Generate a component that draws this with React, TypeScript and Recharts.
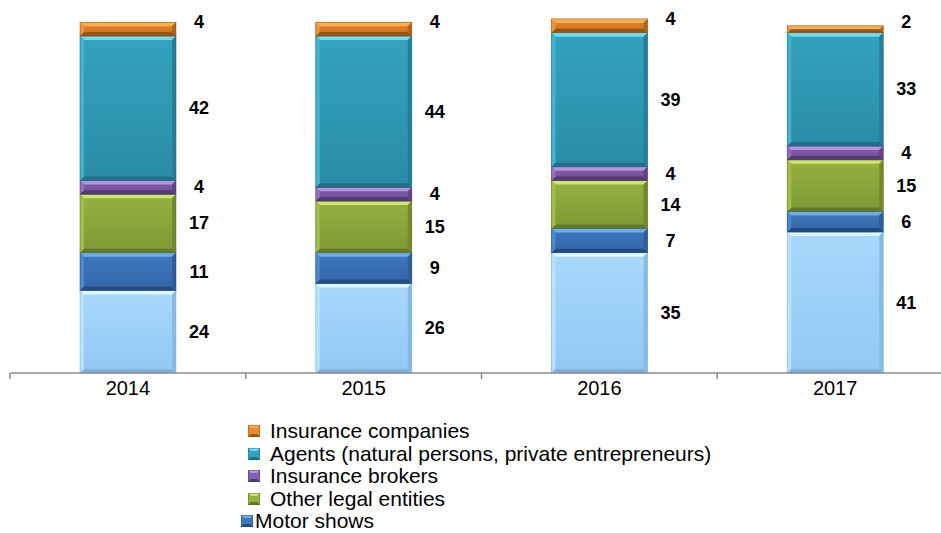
import React from 'react';
import { BarChart, Bar, XAxis, YAxis, Legend, LabelList } from 'recharts';

const years = ['2014', '2015', '2016', '2017'];
const direct = [24, 26, 35, 41];
const motorShows = [11, 9, 7, 6];
const otherLegal = [17, 15, 14, 15];
const brokers = [4, 4, 4, 4];
const agents = [42, 44, 39, 33];
const insurers = [4, 4, 4, 2];

const data = years.map((y, i) => ({
  year: y,
  direct: direct[i],
  motorShows: motorShows[i],
  otherLegal: otherLegal[i],
  brokers: brokers[i],
  agents: agents[i],
  insurers: insurers[i],
}));

type Pal = { faceTop: string; faceBot: string; top: string; bottom: string; left: string; right: string; stroke: string };

const palettes: Record<string, Pal> = {
  direct: { faceTop: '#A8D8FB', faceBot: '#92C8F3', top: '#DDF8FF', bottom: '#7FB0DA', left: '#B8E2FB', right: '#86BCE4', stroke: '#7FA9CC' },
  motorShows: { faceTop: '#4079BF', faceBot: '#3265A6', top: '#6CAEEC', bottom: '#254C82', left: '#4C88CE', right: '#2F5E9A', stroke: '#1E3F70' },
  otherLegal: { faceTop: '#96B140', faceBot: '#7E9834', top: '#CCE66E', bottom: '#62782A', left: '#A2BE4A', right: '#73892E', stroke: '#546820' },
  brokers: { faceTop: '#8660AE', faceBot: '#704C94', top: '#B793DE', bottom: '#553A78', left: '#9270BC', right: '#634486', stroke: '#48306A' },
  agents: { faceTop: '#34A3BF', faceBot: '#2A8CA7', top: '#6CDDF3', bottom: '#216F86', left: '#42B2CE', right: '#257F98', stroke: '#1C6378' },
  insurers: { faceTop: '#E88A30', faceBot: '#C86A1C', top: '#FBAE52', bottom: '#9A5414', left: '#EF9538', right: '#B5621A', stroke: '#8C4C12' },
};

const makeShape = (key: string) => (props: any) => {
  const { x, y, width, height } = props;
  if (!height || height <= 0) return <g />;
  const p = palettes[key];
  const b = Math.min(4, height / 2, width / 2);
  const x2 = x + width;
  const y2 = y + height;
  const gid = `face-${key}`;
  return (
    <g>
      <defs>
        <linearGradient id={gid} x1="0" y1="0" x2="0" y2="1">
          <stop offset="0%" stopColor={p.faceTop} />
          <stop offset="100%" stopColor={p.faceBot} />
        </linearGradient>
      </defs>
      <rect x={x} y={y} width={width} height={height} fill={`url(#${gid})`} />
      <polygon points={`${x},${y} ${x2},${y} ${x2 - b},${y + b} ${x + b},${y + b}`} fill={p.top} />
      <polygon points={`${x},${y2} ${x2},${y2} ${x2 - b},${y2 - b} ${x + b},${y2 - b}`} fill={p.bottom} />
      <polygon points={`${x},${y} ${x + b},${y + b} ${x + b},${y2 - b} ${x},${y2}`} fill={p.left} />
      <polygon points={`${x2},${y} ${x2 - b},${y + b} ${x2 - b},${y2 - b} ${x2},${y2}`} fill={p.right} />
      <rect x={x} y={y} width={width} height={height} fill="none" stroke={p.stroke} strokeWidth={0.8} strokeOpacity={0.6} />
    </g>
  );
};

const makeLabel = (dy: number) => (props: any) => {
  const { x, y, width, height, value } = props;
  return (
    <text
      x={x + width + 23}
      y={y + height / 2 + dy}
      textAnchor="middle"
      dominantBaseline="central"
      fontFamily="'Liberation Sans', Arial, sans-serif"
      fontWeight="bold"
      fontSize={18}
      fill="#000"
    >
      {value}
    </text>
  );
};

const CHART_W = 953;
const CHART_H = 533;
const MARGIN = { top: 12, right: 0, left: 10, bottom: 130 };
const HALF_BAND = (CHART_W - MARGIN.left - MARGIN.right) / years.length / 2;

const YearTick = (props: any) => {
  const { x, y, payload } = props;
  return (
    <g>
      <line x1={x - HALF_BAND} y1={y} x2={x - HALF_BAND} y2={y + 6} stroke="#8C8C8C" strokeWidth={1.5} />
      <text
        x={x}
        y={y + 15}
        textAnchor="middle"
        dominantBaseline="central"
        fontFamily="'Liberation Sans', Arial, sans-serif"
        fontSize={20}
        fill="#000"
      >
        {payload.value}
      </text>
    </g>
  );
};

const legendItems = [
  { key: 'insurers', label: 'Insurance companies', gap: 10 },
  { key: 'agents', label: 'Agents (natural persons, private entrepreneurs)', gap: 10 },
  { key: 'brokers', label: 'Insurance brokers', gap: 10 },
  { key: 'otherLegal', label: 'Other legal entities', gap: 10 },
  { key: 'motorShows', label: 'Motor shows', gap: 2 },
];

const LegendContent = () => (
  <div style={{ fontFamily: "'Liberation Sans', Arial, sans-serif", fontSize: 21, color: '#000' }}>
    {legendItems.map((it, i) => {
      const p = palettes[it.key];
      return (
        <div key={it.key} style={{ display: 'flex', alignItems: 'center', height: 22.5, lineHeight: '22.5px', whiteSpace: 'nowrap', marginLeft: i === 4 ? -7 : 0 }}>
          <svg width={12} height={12} style={{ marginRight: it.gap, flex: 'none' }}>
            <rect x={0} y={0} width={12} height={12} fill={p.faceTop} />
            <polygon points="0,0 12,0 9,3 3,3" fill={p.top} />
            <polygon points="0,12 12,12 9,9 3,9" fill={p.bottom} />
            <rect x={0} y={0} width={12} height={12} fill="none" stroke={p.stroke} strokeWidth={0.8} />
          </svg>
          <span>{it.label}</span>
        </div>
      );
    })}
  </div>
);

const seriesOrder = ['direct', 'motorShows', 'otherLegal', 'brokers', 'agents', 'insurers'];

export default function App() {
  return (
    <div style={{ position: 'absolute', left: 0, top: 0, width: 941, height: 533, overflow: 'hidden', background: '#fff' }}>
      <BarChart width={CHART_W} height={CHART_H} data={data} margin={MARGIN} barSize={96}>
        <XAxis
          dataKey="year"
          axisLine={{ stroke: '#8C8C8C', strokeWidth: 1.5 }}
          tickLine={false}
          tickSize={0}
          tickMargin={0}
          height={30}
          tick={<YearTick />}
          interval={0}
        />
        <YAxis hide domain={[0, 105]} />
        <Legend
          layout="vertical"
          align="center"
          verticalAlign="middle"
          content={<LegendContent />}
          wrapperStyle={{ top: 420, left: 248, width: 560, height: 115 }}
        />
        {seriesOrder.map((k) => (
          <Bar key={k} dataKey={k} stackId="a" isAnimationActive={false} shape={makeShape(k)}>
            <LabelList dataKey={k} content={makeLabel(k === 'insurers' ? -7 : 0)} />
          </Bar>
        ))}
      </BarChart>
    </div>
  );
}
